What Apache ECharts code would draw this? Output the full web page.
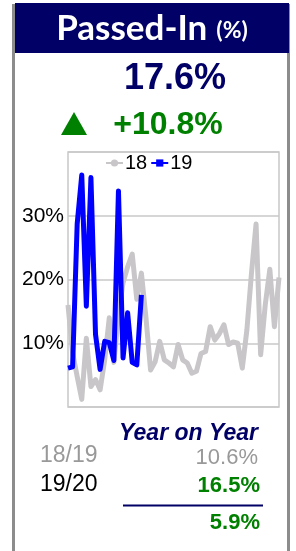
<!DOCTYPE html>
<html>
<head>
<meta charset="utf-8">
<script src="https://cdn.jsdelivr.net/npm/echarts@6/dist/echarts.min.js"></script>
<style>
html,body{margin:0;padding:0;background:#fff;}
#main{width:296px;height:551px;}
</style>
</head>
<body>
<div id="main"></div>
<script>
// week numbers on the x axis (labels hidden)
var weeks = ['1','2','3','4','5','6','7','8','9','10','11','12','13','14','15','16','17','18','19','20',
	'21','22','23','24','25','26','27','28','29','30','31','32','33','34','35','36','37','38','39','40',
	'41','42','43','44','45','46','47'];
// passed-in rate, %
var season18 = [16, 8.5, 4.8, 1.2, 10.8, 3.2, 4.3, 2.7, 7.4, 14.0, 7.0, 14.5, 19.5, 22, 24, 16.9, 21, 14,
	5.8, 7.1, 10.3, 7.4, 6.9, 6.3, 9.8, 7.4, 6.9, 5.3, 5.6, 8.4, 8.7, 12.6, 10.5, 11.5, 12.9, 9.8, 10.2,
	10, 6.1, 12.1, 21, 28.7, 8.2, 16, 21.6, 12.6, 20.3];
var season19 = [6.1, 6.3, 28.7, 36.4, 15.8, 36.0, 11.4, 5.9, 10.3, 10.1, 7.3, 33.9, 7.7, 14.8, 7.0, 6.6, 17.6];
var yTicks = [0, 10, 20, 30, 40];

var navy = '#000066';
var green = '#008000';
var font = '"Liberation Sans", Arial, sans-serif';

var myChart = echarts.init(document.getElementById('main'));
var option = {
	animation: false,
	graphic: [
		// card borders
		{type: 'line', shape: {x1: 13.5, y1: 4, x2: 13.5, y2: 551}, style: {stroke: '#8c8c8c', lineWidth: 3}},
		{type: 'line', shape: {x1: 288.5, y1: 4, x2: 288.5, y2: 551}, style: {stroke: '#8c8c8c', lineWidth: 3}},
		// header
		{type: 'rect', shape: {x: 15, y: 3, width: 274, height: 50}, style: {fill: navy}},
		{type: 'text', x: 152, y: 29, style: {
			text: '{a|Passed-In}{b|(%)}', align: 'center', verticalAlign: 'middle',
			rich: {
				a: {fontFamily: 'Lato, sans-serif', fontWeight: 'bold', fontSize: 35, fill: '#fff'},
				b: {fontFamily: 'Lato, sans-serif', fontWeight: 'bold', fontSize: 23, fill: '#fff', padding: [3, 0, 0, 9]}
			}
		}},
		{type: 'text', x: 175, y: 79, style: {text: '17.6%', align: 'center', verticalAlign: 'middle',
			fontFamily: font, fontWeight: 'bold', fontSize: 36, fill: navy}},
		{type: 'polygon', shape: {points: [[74, 112], [87, 135], [61, 135]]}, style: {fill: green}},
		{type: 'text', x: 168, y: 125, style: {text: '+10.8%', align: 'center', verticalAlign: 'middle',
			fontFamily: font, fontWeight: 'bold', fontSize: 32, fill: green}},
		// year on year block
		{type: 'text', x: 258, y: 434, style: {text: 'Year on Year', align: 'right', verticalAlign: 'middle',
			fontFamily: font, fontWeight: 'bold', fontStyle: 'italic', fontSize: 23, fill: navy}},
		{type: 'text', x: 40, y: 456, style: {text: '18/19', align: 'left', verticalAlign: 'middle',
			fontFamily: font, fontSize: 23, fill: '#999999'}},
		{type: 'text', x: 258, y: 458, style: {text: '10.6%', align: 'right', verticalAlign: 'middle',
			fontFamily: font, fontSize: 22, fill: '#999999'}},
		{type: 'text', x: 40, y: 485, style: {text: '19/20', align: 'left', verticalAlign: 'middle',
			fontFamily: font, fontSize: 23, fill: '#000'}},
		{type: 'text', x: 260, y: 486, style: {text: '16.5%', align: 'right', verticalAlign: 'middle',
			fontFamily: font, fontWeight: 'bold', fontSize: 22, fill: green}},
		{type: 'line', shape: {x1: 123, y1: 505.5, x2: 263, y2: 505.5}, style: {stroke: navy, lineWidth: 2}},
		{type: 'text', x: 260, y: 523, style: {text: '5.9%', align: 'right', verticalAlign: 'middle',
			fontFamily: font, fontWeight: 'bold', fontSize: 22, fill: green}}
	],
	legend: {
		data: ['18', '19'],
		left: 105,
		top: 153,
		padding: 0,
		itemGap: 3,
		itemWidth: 17,
		itemHeight: 9,
		textStyle: {fontFamily: font, fontSize: 20, color: '#000', padding: [0, 0, 0, -3]}
	},
	grid: {
		left: 68, top: 152, right: 17, bottom: 144,
		show: true, borderColor: '#c8c8c8', borderWidth: 1.5
	},
	xAxis: {
		type: 'category',
		data: weeks,
		boundaryGap: false,
		axisLine: {show: false},
		axisTick: {show: false},
		axisLabel: {show: false},
		splitLine: {show: false}
	},
	yAxis: {
		type: 'value',
		min: yTicks[0],
		max: yTicks[yTicks.length - 1],
		interval: 10,
		axisLine: {show: false},
		axisTick: {show: false},
		axisLabel: {
			margin: 4,
			fontFamily: font,
			fontSize: 21,
			color: '#000',
			formatter: function(v){
				return (v === yTicks[0] || v === yTicks[yTicks.length - 1]) ? '' : v + '%';
			}
		},
		splitLine: {lineStyle: {color: '#c8c8c8', width: 1.5}}
	},
	series: [
		{
			name: '18',
			type: 'line',
			data: season18,
			symbol: 'circle',
			symbolSize: 8,
			showSymbol: false,
			itemStyle: {color: '#c8c6c8'},
			lineStyle: {color: '#c8c6c8', width: 5, join: 'round'}
		},
		{
			name: '19',
			type: 'line',
			data: season19,
			symbol: 'rect',
			symbolSize: 8,
			itemStyle: {color: '#0000ff'},
			lineStyle: {color: '#0000ff', width: 5, join: 'round'}
		}
	]
};
myChart.setOption(option);
</script>
</body>
</html>
